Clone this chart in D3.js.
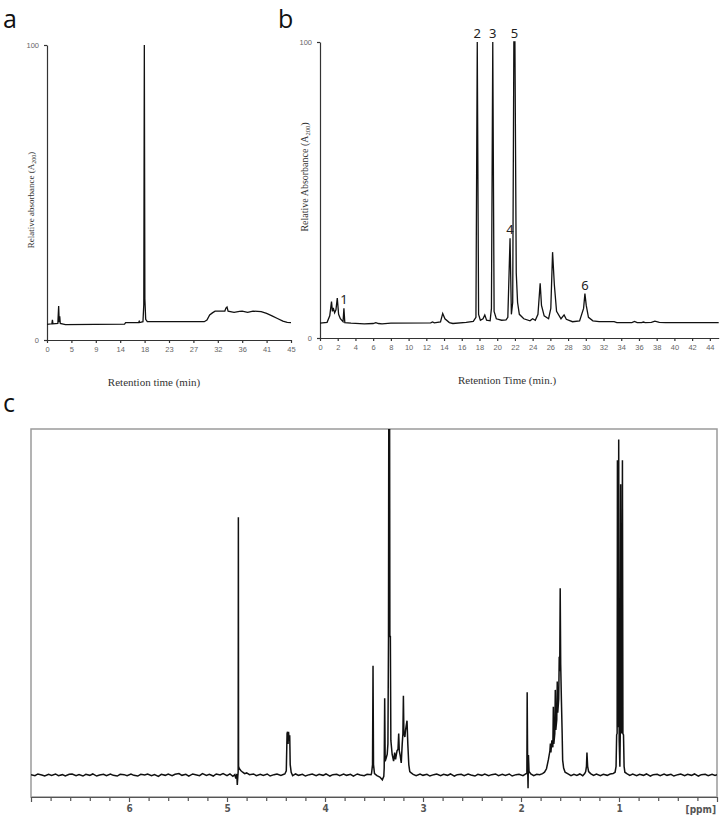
<!DOCTYPE html>
<html>
<head>
<meta charset="utf-8">
<script src="https://cdn.jsdelivr.net/npm/d3@7"></script>
<style>
  body { margin: 0; background: #fff; }
  svg { display: block; }
  .chrom .tick text { font-family: "Liberation Sans", Arial, sans-serif; font-size: 7.5px; fill: #666; }
  .chrom path.domain, .chrom .tick line { stroke: #333; stroke-width: 1.2; }
  .nmr .tick text { font-family: "DejaVu Sans Condensed", "DejaVu Sans", sans-serif; font-weight: bold; font-size: 10px; fill: #555; }
  .nmr path.domain, .nmr .tick line { stroke: #555; stroke-width: 1.2; }
  .title { font-family: "Liberation Serif", "Times New Roman", serif; fill: #333; }
  .panel { font-family: "Open Sans", sans-serif; font-size: 25px; fill: #111; }
  .peak { font-family: "Noto Sans", sans-serif; font-size: 13px; fill: #222; text-anchor: middle; }
</style>
</head>
<body>
<svg id="fig"></svg>
<script>
const W = 724, H = 818;

// panel a: chromatogram, [time (min), relative absorbance]
const chromA = [
  [0, 5.3], [0.9, 5.5], [1.0, 6.8], [1.1, 5.5], [2.0, 5.6], [2.15, 11.5], [2.25, 6.0],
  [2.35, 8.0], [2.45, 5.6], [3.0, 5.4], [3.4, 5.2], [14.3, 5.4], [14.5, 5.9], [16.9, 5.9],
  [17.0, 6.3], [17.1, 5.9], [17.7, 6.2], [17.85, 12], [17.95, 100], [18.05, 14], [18.2, 7],
  [18.5, 6.2], [29.0, 6.2], [29.5, 6.8], [30.0, 8.5], [30.5, 9.2], [31.0, 9.8], [32.8, 9.8],
  [33.0, 10.8], [33.2, 11.2], [33.4, 9.8], [34.5, 9.4], [35.5, 9.7], [36.0, 9.8], [37.0, 9.4],
  [38.0, 9.8], [39.5, 9.6], [40.5, 9.0], [41.5, 8.2], [42.5, 7.3], [43.5, 6.4], [44.3, 6.0], [45, 5.9]
];
const aTickValues = [0, 4.5, 9, 13.5, 18, 22.5, 27, 31.5, 36, 40.5, 45];
const aTickLabels = ["0", "5", "9", "14", "18", "23", "27", "32", "36", "41", "45"];

// panel b: chromatogram of the mixture
const chromB = [
  [0, 5], [0.8, 5.3], [1.1, 7.5], [1.3, 12.3], [1.4, 9], [1.5, 10.2], [1.65, 8.5], [1.8, 9.5],
  [1.95, 13.5], [2.1, 8], [2.3, 6.5], [2.6, 5.5], [2.7, 10], [2.8, 5.2], [3.5, 5], [5.0, 4.8],
  [6.0, 4.9], [6.3, 5.2], [6.6, 4.9], [7, 4.8], [8, 5], [12.5, 5.1], [12.7, 5.4], [12.9, 5.1],
  [13.6, 5.4], [13.85, 8.3], [14.1, 6.5], [14.6, 5.2], [15, 4.9], [16.5, 5.3], [17.3, 5.6],
  [17.6, 7], [17.75, 100], [17.9, 8], [18.1, 6], [18.4, 6.5], [18.6, 7.8], [18.8, 6], [19.2, 5.8],
  [19.35, 10], [19.5, 100], [19.65, 9], [19.9, 6.5], [20.5, 6], [21.0, 6.1], [21.2, 7],
  [21.45, 33.7], [21.6, 8], [21.75, 12], [21.88, 100], [22.0, 100], [22.15, 22], [22.3, 12],
  [22.5, 8], [23, 6.5], [23.7, 5.8], [24.0, 6.5], [24.3, 6], [24.6, 8], [24.85, 18.5], [25.0, 11],
  [25.3, 7.5], [25.8, 6.5], [26.05, 10], [26.25, 29], [26.45, 18], [26.7, 9], [27.2, 6.5],
  [27.55, 7.8], [27.8, 6.3], [28.5, 5.5], [29.3, 5.8], [29.75, 10], [29.9, 15], [30.05, 11],
  [30.3, 7], [30.8, 5.8], [31.5, 5.5], [33.2, 5.5], [33.5, 5.2], [35.2, 5.2], [35.5, 5.6],
  [35.8, 5.2], [36.3, 5.2], [36.5, 5.4], [36.7, 5.2], [37.4, 5.3], [37.8, 5.7], [38.3, 5.3],
  [39, 5.2], [45, 5.2]
];
const bTickValues = [0, 2, 4, 6, 8, 10, 12, 14, 16, 18, 20, 22, 24, 26, 28, 30, 32, 34, 36, 38, 40, 42, 44];
const bPeakLabels = ["1", "2", "3", "4", "5", "6"];
const bPeakTimes = [2.7, 17.75, 19.5, 21.45, 21.95, 29.9];
const bPeakTops = [10, 100, 100, 33.7, 100, 15];

// panel c: 1H NMR spectrum, [ppm, intensity]
const nmrSpectrum = [
  [7.00, 0.1], [6.96, -0.2], [6.93, 0.3], [6.89, 0.0], [6.86, -0.3], [6.82, 0.2], [6.79, -0.1],
  [6.75, 0.3], [6.72, -0.2], [6.68, 0.1], [6.65, -0.3], [6.61, 0.2], [6.58, 0.3], [6.54, -0.2],
  [6.51, 0.1], [6.47, -0.3], [6.44, 0.2], [6.40, -0.1], [6.37, 0.3], [6.33, -0.3], [6.30, 0.0],
  [6.26, 0.2], [6.23, -0.2], [6.19, 0.3], [6.16, -0.1], [6.12, -0.3], [6.09, 0.2], [6.05, 0.1],
  [6.02, -0.2], [5.98, 0.3], [5.95, -0.1], [5.91, -0.3], [5.88, 0.2], [5.84, 0.0], [5.81, 0.3],
  [5.77, -0.2], [5.74, 0.1], [5.70, -0.4], [5.67, 0.2], [5.63, -0.1], [5.60, 0.3], [5.56, -0.2],
  [5.53, 0.2], [5.49, 0.4], [5.46, -0.1], [5.42, 0.2], [5.39, -0.3], [5.35, 0.3], [5.32, 0.1],
  [5.28, -0.2], [5.25, 0.4], [5.21, -0.1], [5.18, 0.2], [5.14, -0.3], [5.11, 0.3], [5.07, 0.0],
  [5.04, 0.4], [5.00, -0.2], [4.97, 0.3], [4.94, -0.4], [4.92, 0.1], [4.91, -1.0], [4.90, 0.3],
  [4.895, -2.9], [4.89, -0.6], [4.886, 1.0], [4.884, 74.5], [4.882, 2.5], [4.875, 1.9],
  [4.86, 1.3], [4.84, 0.8], [4.82, 0.4], [4.80, 0.6], [4.77, 0.1], [4.73, 0.3], [4.70, -0.2],
  [4.66, 0.2], [4.63, -0.1], [4.59, 0.3], [4.56, -0.3], [4.52, 0.1], [4.49, 0.3], [4.45, -0.1],
  [4.42, 0.2], [4.41, 0.3], [4.395, 1.2], [4.387, 12], [4.382, 12.5], [4.377, 9], [4.372, 12.5],
  [4.366, 10], [4.36, 11.5], [4.355, 3], [4.345, 0.8], [4.33, -0.2], [4.30, 0.3], [4.27, -0.1],
  [4.23, 0.2], [4.20, -0.3], [4.16, 0.1], [4.13, 0.3], [4.09, -0.2], [4.06, 0.2], [4.02, -0.1],
  [3.99, 0.3], [3.95, -0.3], [3.92, 0.1], [3.88, 0.2], [3.85, -0.2], [3.81, 0.3], [3.78, -0.1],
  [3.74, 0.2], [3.71, -0.3], [3.67, 0.3], [3.64, 0.0], [3.60, -0.2], [3.57, 0.2], [3.53, 0.1],
  [3.525, 0.5], [3.515, 3], [3.51, 31.6], [3.505, 3], [3.495, 0.4], [3.47, -0.2], [3.44, -0.6],
  [3.415, -1.4], [3.40, -0.4], [3.396, 2], [3.391, 22.2], [3.386, 4], [3.375, 5], [3.365, 6],
  [3.358, 9], [3.352, 40], [3.348, 130], [3.342, 130], [3.338, 40], [3.333, 40], [3.328, 10],
  [3.315, 6], [3.30, 4], [3.289, 6.5], [3.28, 4.5], [3.265, 7], [3.255, 7.5], [3.248, 12],
  [3.242, 7], [3.232, 5.5], [3.222, 3.5], [3.212, 9], [3.205, 12], [3.20, 22.9], [3.195, 12],
  [3.185, 11], [3.178, 13], [3.163, 15.7], [3.155, 9], [3.145, 3], [3.135, 1], [3.12, 0.6],
  [3.10, 0.2], [3.07, -0.2], [3.03, 0.3], [3.00, -0.1], [2.96, 0.2], [2.93, -0.3], [2.89, 0.1],
  [2.86, 0.3], [2.82, -0.2], [2.79, 0.2], [2.75, -0.1], [2.72, 0.3], [2.68, -0.3], [2.65, 0.1],
  [2.61, 0.2], [2.58, -0.2], [2.54, 0.3], [2.51, 0.0], [2.47, -0.3], [2.44, 0.2], [2.40, -0.1],
  [2.37, 0.3], [2.33, -0.2], [2.30, 0.1], [2.26, 0.3], [2.23, -0.2], [2.19, 0.2], [2.16, -0.1],
  [2.12, 0.3], [2.09, -0.3], [2.05, 0.1], [2.02, 0.2], [1.98, -0.2], [1.96, 0.2], [1.94, 0.5],
  [1.937, 23.9], [1.932, 2], [1.928, -3.8], [1.924, 5.8], [1.918, 1], [1.90, 0.3], [1.87, -0.2],
  [1.84, 0.2], [1.81, 0.1], [1.78, 0.4], [1.76, 0.8], [1.74, 1.8], [1.72, 4.5], [1.705, 7],
  [1.70, 9.1], [1.695, 6.5], [1.685, 10], [1.675, 8], [1.67, 19.7], [1.665, 9], [1.655, 12],
  [1.65, 24.6], [1.645, 13], [1.635, 16], [1.63, 27], [1.625, 18], [1.615, 22], [1.61, 34.2],
  [1.605, 30], [1.60, 54], [1.595, 32], [1.588, 22], [1.58, 12], [1.575, 4.3], [1.565, 2],
  [1.55, 0.8], [1.52, 0.3], [1.49, -0.2], [1.46, 0.2], [1.43, -0.1], [1.40, 0.3], [1.37, -0.2],
  [1.35, 0.4], [1.34, 1], [1.332, 2.5], [1.327, 6.5], [1.32, 2.5], [1.31, 1], [1.29, 0.4],
  [1.26, -0.1], [1.23, 0.3], [1.19, -0.2], [1.16, 0.2], [1.12, -0.1], [1.09, 0.3], [1.06, 0.4],
  [1.04, 0.8], [1.03, 2.5], [1.024, 11.6], [1.019, 12], [1.016, 91], [1.012, 14], [1.006, 14],
  [1.003, 97], [0.998, 10], [0.991, 2.4], [0.987, 12], [0.983, 84], [0.978, 20], [0.972, 12],
  [0.965, 91], [0.96, 12], [0.954, 11.6], [0.948, 2.5], [0.94, 0.8], [0.92, 0.4], [0.89, -0.1],
  [0.86, 0.3], [0.82, -0.2], [0.79, 0.2], [0.75, -0.1], [0.72, 0.3], [0.68, -0.3], [0.65, 0.1],
  [0.61, 0.2], [0.58, -0.2], [0.54, 0.3], [0.51, -0.1], [0.47, 0.2], [0.44, -0.3], [0.40, 0.1],
  [0.37, 0.3], [0.33, -0.2], [0.30, 0.2], [0.26, -0.1], [0.23, 0.3], [0.19, -0.3], [0.16, 0.1],
  [0.12, 0.2], [0.09, -0.2], [0.05, 0.2], [0.02, -0.1], [0.00, 0.1]
];
const cTickValues = [1, 2, 3, 4, 5, 6];
const cMinorTicks = [0.2, 0.4, 0.6, 0.8, 1.2, 1.4, 1.6, 1.8, 2.2, 2.4, 2.6, 2.8, 3.2, 3.4, 3.6, 3.8,
  4.2, 4.4, 4.6, 4.8, 5.2, 5.4, 5.6, 5.8, 6.2, 6.4, 6.6, 6.8];

const svg = d3.select('#fig').attr('width', W).attr('height', H);

// panel letters
svg.append('text').attr('class', 'panel').attr('x', 3).attr('y', 28).text('a');
svg.append('text').attr('class', 'panel').attr('x', 278).attr('y', 28).text('b');
svg.append('text').attr('class', 'panel').attr('x', 3).attr('y', 412).text('c');

// ---- panel a ----
const xA = d3.scaleLinear().domain([0, 45]).range([47, 291]);
const yA = d3.scaleLinear().domain([0, 100]).range([340, 45]);
const gA = svg.append('g').attr('class', 'chrom');

gA.append('g')
  .attr('transform', 'translate(0,340)')
  .call(d3.axisBottom(xA).tickValues(aTickValues).tickFormat((d, i) => aTickLabels[i])
    .tickSize(3).tickPadding(4).tickSizeOuter(0));
gA.append('g')
  .attr('transform', 'translate(47,0)')
  .call(d3.axisLeft(yA).tickValues([0, 100]).tickSize(3).tickPadding(5).tickSizeOuter(0));

gA.append('path')
  .datum(chromA)
  .attr('fill', 'none')
  .attr('stroke', '#111')
  .attr('stroke-width', 1.3)
  .attr('d', d3.line().x(d => xA(d[0])).y(d => yA(d[1])));

gA.append('text').attr('class', 'title')
  .attr('x', 154).attr('y', 386).attr('text-anchor', 'middle').attr('font-size', 11)
  .text('Retention time (min)');

const yTitleA = gA.append('text').attr('class', 'title')
  .attr('transform', 'translate(34,200) rotate(-90)')
  .attr('text-anchor', 'middle').attr('font-size', 9);
yTitleA.append('tspan').text('Relative absorbance (A');
yTitleA.append('tspan').attr('font-size', 6).attr('dy', 2).text('200');
yTitleA.append('tspan').attr('dy', -2).text(')');

// ---- panel b ----
const xB = d3.scaleLinear().domain([0, 45]).range([320, 718.7]);
const yB = d3.scaleLinear().domain([0, 100]).range([338, 42]);
const gB = svg.append('g').attr('class', 'chrom');

gB.append('g')
  .attr('transform', 'translate(0,338)')
  .call(d3.axisBottom(xB).tickValues(bTickValues).tickSize(3).tickPadding(4).tickSizeOuter(0));
gB.append('g')
  .attr('transform', 'translate(320,0)')
  .call(d3.axisLeft(yB).tickValues([0, 100]).tickSize(3).tickPadding(5).tickSizeOuter(0));

gB.append('path')
  .datum(chromB)
  .attr('fill', 'none')
  .attr('stroke', '#111')
  .attr('stroke-width', 1.3)
  .attr('d', d3.line().x(d => xB(d[0])).y(d => yB(d[1])));

gB.selectAll('text.peak')
  .data(bPeakLabels)
  .join('text')
  .attr('class', 'peak')
  .attr('x', (d, i) => xB(bPeakTimes[i]))
  .attr('y', (d, i) => yB(bPeakTops[i]) - 4)
  .text(d => d);

gB.append('text').attr('class', 'title')
  .attr('x', 507).attr('y', 384).attr('text-anchor', 'middle').attr('font-size', 11)
  .text('Retention Time (min.)');

const yTitleB = gB.append('text').attr('class', 'title')
  .attr('transform', 'translate(308,177) rotate(-90)')
  .attr('text-anchor', 'middle').attr('font-size', 10);
yTitleB.append('tspan').text('Relative Absorbance (A');
yTitleB.append('tspan').attr('font-size', 6.5).attr('dy', 2).text('200');
yTitleB.append('tspan').attr('dy', -2).text(')');

// ---- panel c ----
const xC = d3.scaleLinear().domain([7, 0]).range([31, 717]);
const yC = d3.scaleLinear().domain([0, 100]).range([775, 429]);
const gC = svg.append('g').attr('class', 'nmr');

gC.append('clipPath').attr('id', 'nmr-clip')
  .append('rect').attr('x', 31).attr('y', 429).attr('width', 686).attr('height', 368);

gC.append('rect')
  .attr('x', 31).attr('y', 429).attr('width', 686).attr('height', 368)
  .attr('fill', 'none').attr('stroke', '#9a9a9a').attr('stroke-width', 1.5);

gC.append('g')
  .attr('transform', 'translate(0,797)')
  .call(d3.axisBottom(xC).tickValues(cMinorTicks).tickSize(4).tickFormat('').tickSizeOuter(0));
gC.append('g')
  .attr('transform', 'translate(0,797)')
  .call(d3.axisBottom(xC).tickValues(cTickValues).tickFormat(d3.format('d'))
    .tickSize(5).tickPadding(3).tickSizeOuter(5));

gC.append('path')
  .datum(nmrSpectrum)
  .attr('clip-path', 'url(#nmr-clip)')
  .attr('fill', 'none')
  .attr('stroke', '#111')
  .attr('stroke-width', 1.5)
  .attr('d', d3.line().x(d => xC(d[0])).y(d => yC(d[1])));

gC.append('text')
  .attr('x', 716).attr('y', 813).attr('text-anchor', 'end')
  .attr('font-family', '"DejaVu Sans Condensed", "DejaVu Sans", sans-serif')
  .attr('font-weight', 'bold').attr('font-size', 10).attr('fill', '#555')
  .text('[ppm]');
</script>
</body>
</html>
